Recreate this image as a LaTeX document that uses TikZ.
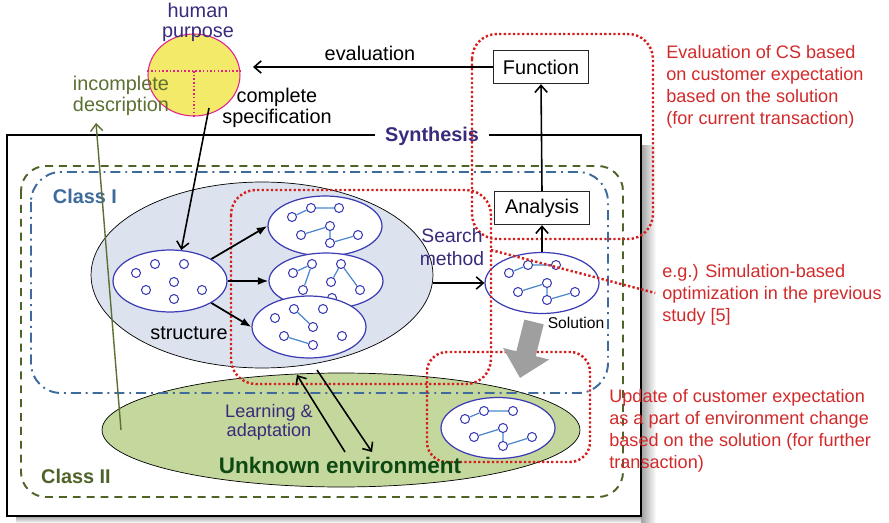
\documentclass[tikz,border=0pt]{standalone}
\usepackage{fontspec}
\setmainfont{Liberation Sans}
\usetikzlibrary{positioning,arrows.meta,shapes.geometric,calc}

\definecolor{purpletext}{HTML}{3A2A7C}
\definecolor{olive}{HTML}{5B7032}
\definecolor{classgreen}{HTML}{4F6228}
\definecolor{classblue}{HTML}{3E6A9C}
\definecolor{notered}{HTML}{D22A2A}
\definecolor{dotred}{HTML}{D41F1F}
\definecolor{ringblue}{HTML}{3C3CB4}
\definecolor{linkblue}{HTML}{4A88CC}
\definecolor{structfill}{HTML}{DCE3EE}
\definecolor{envfill}{HTML}{C4D79C}
\definecolor{envtext}{HTML}{0E4812}
\definecolor{purposefill}{HTML}{F2EA68}
\definecolor{purposeline}{HTML}{E0208C}

% white ring with graph dots: #1 name, #2 centre, #3 height, #4 dot offsets
\newcommand{\ring}[4]{%
  \node[ring, minimum height=#3] (#1) at #2 {};
  \foreach \dx/\dy [count=\i] in {#4}
    \node[dot] (#1\i) at ($#2+(\dx,\dy)$) {};
}
% links of the chain-shaped graph
\newcommand{\chainlinks}[1]{%
  \draw[link] (#11) -- (#12) -- (#13);
  \draw[link] (#14) -- (#15) -- (#17) -- (#16);
}

\begin{document}
\begin{tikzpicture}[x=0.02cm, y=-0.02cm,
    every node/.style={font=\fontsize{11.3pt}{12pt}\selectfont},
    dot/.style={circle, draw=ringblue, fill=white, inner sep=0pt, minimum size=0.18cm, line width=0.6pt},
    link/.style={draw=linkblue, line width=0.7pt},
    ring/.style={ellipse, draw=ringblue, fill=white, inner sep=0pt, minimum width=2.28cm, line width=0.7pt},
    zone/.style={draw=dotred, line width=1.4pt, dash pattern=on 1.3pt off 1.3pt, rounded corners=0.5cm},
    note/.style={anchor=north west, align=left, text=notered, inner sep=0pt, font=\fontsize{10.3pt}{12.5pt}\selectfont},
    box/.style={rectangle, draw=black!85, fill=white, line width=0.8pt, minimum width=1.9cm, minimum height=0.66cm, inner sep=0pt},
    classtwo/.style={draw=classgreen, line width=1.1pt, dash pattern=on 4.5pt off 3.4pt, rounded corners=0.5cm},
    classone/.style={draw=classblue, line width=1.1pt, dash pattern=on 5.7pt off 2.8pt on 1.1pt off 2.8pt, rounded corners=0.6cm},
    purposedots/.style={draw=purposeline, line width=0.9pt, dash pattern=on 0.9pt off 1.2pt},
    arr/.style={-{Straight Barb[length=4pt, width=7pt]}, line width=0.9pt},
    solidarr/.style={-{Latex[length=6pt, width=4.5pt]}, line width=1pt},
    boldlabel/.style={font=\bfseries\fontsize{11.3pt}{12pt}\selectfont},
  ]
  \useasboundingbox (0,0) rectangle (889,523);

  % Synthesis frame and its shadow
  \shade[left color=gray!75, right color=white] (641,146) rectangle (656,523);
  \shade[top color=gray!75, bottom color=white] (16,516) rectangle (641,523);
  \draw[line width=1pt, fill=white] (7,135) rectangle (641,516);
  \node[fill=white, inner xsep=5.5pt, text=purpletext, boldlabel] (synth) at (432,136) {Synthesis};

  % structure pool and environment
  \node[ellipse, draw, fill=structfill, minimum width=6.84cm, minimum height=3.72cm, inner sep=0pt] (pool) at (262,275) {};
  \node[ellipse, draw, fill=envfill, minimum width=9.56cm, minimum height=2.28cm, inner sep=0pt] (env) at (341,430) {};

  % problem classes
  \draw[classtwo] (21,166) rectangle (623,497);
  \draw[classone] (31,172) rectangle (608,393);
  \node[text=classblue, boldlabel] (classI) at (85,196) {Class I};
  \node[text=classgreen, boldlabel] (classII) at (76,476) {Class II};

  % graphs
  \ring{start}{(170,281)}{1.24cm}{-34/-8,-15/-17,14/-17,4/1,-24/9,32/9,4/18}
  \ring{top}{(325,226)}{1.2cm}{-33/-9,-14/-18,14/-18,-24/9,5/0,33/9,5/17}
  \chainlinks{top}
  \ring{mid}{(326,281)}{1.12cm}{-33/-8,-14/-17,15/-17,-23/9,5/1,34/9,6/17}
  \draw[link] (mid1) -- (mid2) -- (mid4);
  \draw[link] (mid5) -- (mid3) -- (mid6);
  \ring{low}{(309,327)}{1.24cm}{-34/-9,-15/-18,14/-18,4/0,-25/9,4/18,33/9}
  \draw[link] (low2) -- (low4);
  \draw[link] (low5) -- (low6);
  \ring{sol}{(542,283)}{1.22cm}{-33/-10,-14/-18,14/-18,-24/9,5/0,33/9,5/17}
  \chainlinks{sol}
  \ring{goal}{(498,428)}{1.22cm}{-33/-9,-14/-17,15/-17,-24/9,5/0,34/9,5/18}
  \chainlinks{goal}

  % dotted zones
  \draw[zone] (472,34) rectangle (653,239);
  \draw[zone] (231,190) rectangle (491,384);
  \draw[zone, rounded corners=0.4cm] (427,352) rectangle (590,462);

  % human purpose
  \node[ellipse, draw=purposeline, fill=purposefill, minimum width=1.84cm, minimum height=1.64cm, inner sep=0pt, line width=0.6pt] (purpose) at (194,75) {};
  \coordinate (cross) at (194,71);
  \draw[purposedots] (purpose.west |- cross) -- (purpose.east |- cross);
  \draw[purposedots] (cross) -- (purpose.south);

  \node[box] (function) at (541,67) {Function};
  \node[box] (analysis) at (542,208) {Analysis};

  % arrows
  \coordinate (evaltip) at (253,67);
  \coordinate (specfoot) at (209,108);
  \coordinate (olivefoot) at (121,430);
  \coordinate (olivetip) at (96,123);
  \coordinate (learnfoot) at (345,452);
  \coordinate (learntip) at (297,375);
  \coordinate (adaptfoot) at (317,370);
  \coordinate (adapttip) at (372,452);
  \coordinate (dropfrom) at (534,322);
  \coordinate (dropto) at (520,378);
  \coordinate (hint) at (491,250);

  \draw[arr] (function.west) -- (evaltip);
  \draw[arr] (analysis.north) -- (function.south);
  \draw[arr] (sol.north) -- (analysis.south);
  \draw[arr] (pool.east |- sol) -- (sol.west);
  \draw[arr] (specfoot) -- (start.70);
  \draw[solidarr] (start.28) -- (top.west);
  \draw[solidarr] (start.east) -- (mid.west);
  \draw[solidarr] (start.-28) -- (low.west);
  \draw[arr, olive, line width=0.8pt] (olivefoot) -- (olivetip);
  \draw[arr] (learnfoot) -- (learntip);
  \draw[arr] (adaptfoot) -- (adapttip);
  \draw[gray!75, line width=0.4cm, -{Triangle[width=0.92cm, length=0.5cm]}] (dropfrom) -- (dropto);

  % labels
  \node[text=purpletext, align=center, font=\fontsize{11.3pt}{11.4pt}\selectfont] (purposelabel) at (198,22) {human\\purpose};
  \node[align=center] (speclabel) at (277,108) {complete\\specification};
  \node[text=olive, align=left] (incomplete) at (121,96) {incomplete\\description};
  \node (evallabel) at (370,53) {evaluation};
  \node (structlabel) at (189,333) {structure};
  \node[text=purpletext, align=center, font=\fontsize{11pt}{13pt}\selectfont] (searchlabel) at (452,247) {Search\\method};
  \node[font=\fontsize{8.9pt}{10pt}\selectfont] (sollabel) at (576,323) {Solution};
  \node[text=purpletext, align=center, font=\fontsize{10.3pt}{10.8pt}\selectfont] (learnlabel) at (269,422) {Learning \&\\adaptation};
  \node[text=envtext, font=\bfseries\fontsize{12.8pt}{14pt}\selectfont] (envlabel) at (340,465) {Unknown environment};

  % notes
  \node[note] (evalnote) at (666,45) {Evaluation of CS based\\on customer expectation\\based on the solution\\(for current transaction)};
  \node[note] (egnote) at (662,264) {e.g.) Simulation-based\\optimization in the previous\\study [5]};
  \node[note] (updatenote) at (609,389) {Update of customer expectation\\as a part of environment change\\based on the solution (for further\\transaction)};
  \draw[zone, shorten >=4pt] (hint) -- (egnote.west);
\end{tikzpicture}
\end{document}
